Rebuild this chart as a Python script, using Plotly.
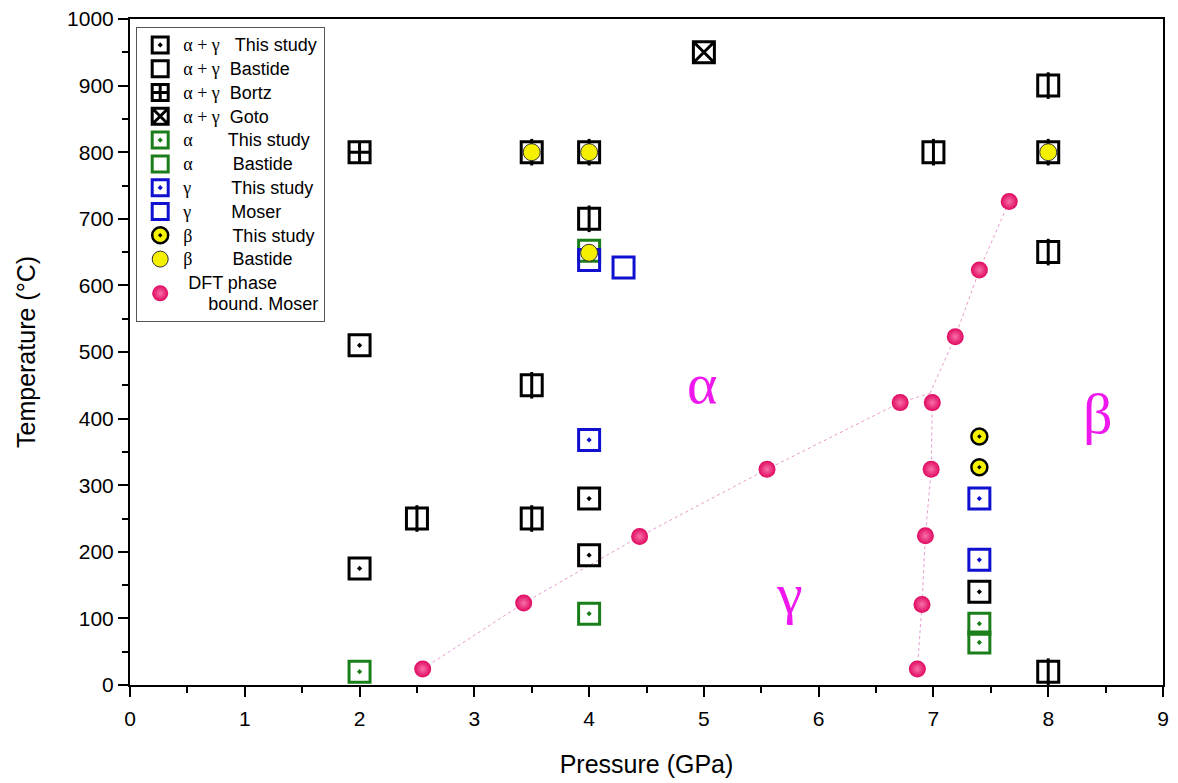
import plotly.graph_objects as go

# ---------------- data ----------------
ag_this_P = [2, 2, 4, 4, 7.4]
ag_this_T = [510, 175, 280, 195, 140]

ag_bastide_P = [2.5, 3.5, 3.5, 4, 7, 8, 8, 8, 3.5, 4, 8]
ag_bastide_T = [250, 250, 450, 700, 800, 900, 650, 20, 800, 800, 800]

ag_bortz_P = [2]
ag_bortz_T = [800]

ag_goto_P = [5]
ag_goto_T = [950]

a_this_P = [2, 4, 7.4, 7.4]
a_this_T = [20, 107, 92, 64]

a_bastide_P = [4]
a_bastide_T = [652]

g_this_P = [4, 7.4, 7.4]
g_this_T = [368, 280, 188]

g_moser_P = [4, 4.3]
g_moser_T = [638, 627]

b_this_P = [7.4, 7.4]
b_this_T = [373, 327]

b_bastide_P = [3.5, 4, 8, 4]
b_bastide_T = [800, 800, 800, 649]

# DFT phase boundaries (Moser)
ag_line_P = [2.55, 3.43, 4.44, 5.55, 6.71]
ag_line_T = [24, 123, 223, 324, 424]
gb_line_P = [6.86, 6.90, 6.93, 6.98, 6.99]
gb_line_T = [24, 121, 224, 324, 424]
ab_line_P = [7.19, 7.40, 7.66]
ab_line_T = [523, 623, 726]
triple_P = 6.97
triple_T = 438

phase_labels = ["α", "γ", "β"]
phase_P = [4.98, 5.75, 8.43]
phase_T = [452, 138, 408]

x_ticks = list(range(0, 10))
y_ticks = list(range(0, 1001, 100))

# ---------------- style ----------------
SERIF = "Liberation Serif"
SANS = "Liberation Sans"
NB = "\u00a0"
ZW = "\u200b"


def lab(greek, text, pad):
    return (f'<span style="font-size:18px"><span style="font-family:{SERIF}">{greek}</span>'
            f'{NB * pad}{text}</span>')


fig = go.Figure()

line_col = "#e89ccf"
for P, T in [(ag_line_P + [triple_P], ag_line_T + [triple_T]),
             (gb_line_P + [triple_P], gb_line_T + [triple_T]),
             ([triple_P] + ab_line_P, [triple_T] + ab_line_T)]:
    fig.add_trace(go.Scatter(x=P, y=T, mode="lines", showlegend=False,
                             line=dict(color=line_col, width=1, dash="dot"),
                             hoverinfo="skip"))

SQ = 21
LW = 3


def add(name, P, T, symbol, color, fill=None, size=SQ, lw=LW, lcolor=None, group=None):
    fig.add_trace(go.Scatter(
        x=P, y=T, mode="markers", name=name, legendgroup=group or name,
        marker=dict(symbol=symbol, size=size,
                    color=fill if fill is not None else color,
                    line=dict(color=lcolor or color, width=lw))))


add(lab("α + γ", "This study", 3), ag_this_P, ag_this_T, "square-open-dot", "black")
add(lab("α + γ", "Bastide", 2), ag_bastide_P, ag_bastide_T, "square-open", "black")
# vertical divider of the Bastide squares
fig.add_trace(go.Scatter(x=ag_bastide_P, y=ag_bastide_T, mode="markers", showlegend=False,
                         legendgroup=lab("α + γ", "Bastide", 2),
                         marker=dict(symbol="line-ns", size=SQ - 2,
                                     line=dict(color="black", width=3)),
                         hoverinfo="skip"))
add(lab("α + γ", "Bortz", 2), ag_bortz_P, ag_bortz_T, "square-cross-open", "black")
add(lab("α + γ", "Goto", 2), ag_goto_P, ag_goto_T, "square-x-open", "black")
add(lab("α", "This study", 7), a_this_P, a_this_T, "square-open-dot", "#1a7f1a")
add(lab("α", "Bastide", 8), a_bastide_P, a_bastide_T, "square-open", "#1a7f1a")
add(lab("γ", "This study", 8), g_this_P, g_this_T, "square-open-dot", "#1010d0")
add(lab("γ", "Moser", 8), g_moser_P, g_moser_T, "square-open", "#1010d0")
add(lab("β", "This study", 8), b_this_P, b_this_T, "circle-dot", "#f5f000",
    fill="#f5f000", size=16, lw=2.5, lcolor="black")
add(lab("β", "Bastide", 8), b_bastide_P, b_bastide_T, "circle", "#f5f000",
    fill="#f5f000", size=17, lw=1, lcolor="#333333")

fig.add_trace(go.Scatter(
    x=ag_line_P + gb_line_P + ab_line_P,
    y=ag_line_T + gb_line_T + ab_line_T,
    mode="markers",
    name=(f'<span style="font-size:18px">{ZW}{NB}DFT phase<br>'
          f'{ZW}{NB * 5}bound. Moser</span>'),
    marker=dict(symbol="circle", size=17, color="#e0085f",
                gradient=dict(type="radial", color="#f870a8"),
                line=dict(width=0))))

for t, P, T in zip(phase_labels, phase_P, phase_T):
    fig.add_annotation(x=P, y=T, text=t, showarrow=False,
                       font=dict(family=SERIF, size=58, color="#ee18ee"))

axis_common = dict(
    showgrid=False, zeroline=False, showline=True, linecolor="black", linewidth=2,
    mirror=True, ticks="outside", ticklen=10, tickwidth=2, tickcolor="black",
    tickfont=dict(family=SANS, size=21, color="black"),
    minor=dict(ticks="outside", ticklen=6, tickwidth=2, tickcolor="black"),
    automargin=False, ticklabeloverflow="allow",
)

fig.update_xaxes(range=[0, 9], tickvals=x_ticks, dtick=1, ticklabelstandoff=4,
                 title=dict(text="Pressure (GPa)", font=dict(family=SANS, size=25, color="black"),
                            standoff=26),
                 **axis_common)
fig.update_xaxes(minor=dict(dtick=0.5))
fig.update_yaxes(range=[0, 1000], tickvals=y_ticks, dtick=100,
                 title=dict(text="Temperature (°C)", font=dict(family=SANS, size=25, color="black"),
                            standoff=24),
                 **axis_common)
fig.update_yaxes(minor=dict(dtick=50))

# page body has an 8px margin: figure occupies 1170x775 of the 1178x783 window
fig.update_layout(
    width=1170, height=775,
    margin=dict(l=122, r=15, t=11, b=98),
    paper_bgcolor="white", plot_bgcolor="white",
    showlegend=True,
    legend=dict(x=0.006, y=0.988, xanchor="left", yanchor="top",
                bgcolor="white", bordercolor="#555555", borderwidth=1,
                font=dict(family=SANS, size=16, color="black"),
                tracegroupgap=0, itemwidth=36),
)

fig.write_html("out.html")
